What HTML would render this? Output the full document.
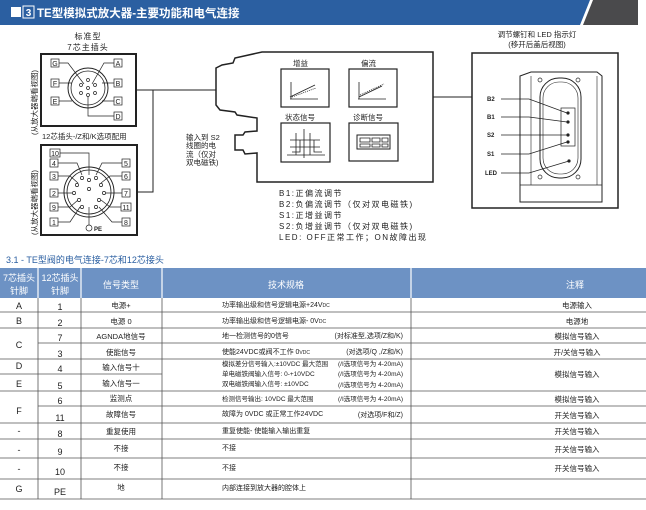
<!DOCTYPE html>
<html><head><meta charset="utf-8"><style>
body{margin:0;background:#fff}
svg{display:block}
text{font-family:"Liberation Sans","Noto Sans CJK SC",sans-serif;fill:#222}
</style></head><body>
<svg width="646" height="510" viewBox="0 0 646 510" xmlns="http://www.w3.org/2000/svg">
<polygon points="0,0 590,0 580,25 0,25" fill="#2b5fa1"/>
<polygon points="593,0 638,0 638,25 583,25" fill="#4a4a4c"/>
<rect x="11" y="7" width="10" height="10" fill="#fff"/>
<rect x="23" y="6" width="11" height="12" fill="none" stroke="#fff" stroke-width="1"/>
<text x="28.5" y="16" font-size="10" font-weight="bold" text-anchor="middle" style="fill:#fff">3</text>
<text x="37" y="17" font-size="11.5" font-weight="bold" style="fill:#fff">TE型模拟式放大器-主要功能和电气连接</text>

<g stroke="#222" fill="none">
<rect x="41" y="54" width="95" height="72" stroke-width="2"/>
<circle cx="88" cy="88" r="20" stroke-width="1"/>
<circle cx="88" cy="88" r="17" stroke-width="0.8"/>
<rect x="41" y="145" width="96" height="90" stroke-width="2"/>
<circle cx="89" cy="192" r="25" stroke-width="1"/>
<circle cx="89" cy="192" r="22" stroke-width="0.8"/>
<polyline points="136,90 216,90" stroke-width="1"/>
<polyline points="137,192 153,192 153,90" stroke-width="1"/>
<polygon points="216,68 222,65 233,63 235,58 262,52 433,52 433,182 257,182 257,153 245,154 243,150 235,150 235,135 243,135 245,132 257,131 257,118 237,115 235,112 220,110 216,105" stroke-width="1.5"/>
<line x1="433" y1="97" x2="472" y2="97" stroke-width="1"/>
<rect x="281" y="69" width="48" height="38" stroke-width="1.2"/>
<rect x="349" y="69" width="48" height="38" stroke-width="1.2"/>
<rect x="281" y="123" width="49" height="39" stroke-width="1.2"/>
<rect x="349" y="123" width="49" height="38" stroke-width="1.2"/>
<path d="M290 99 H318 M291 99 V82 M290 97 L315 85" stroke-width="0.8"/>
<path d="M292 97 L316 88" stroke-width="0.8" stroke-dasharray="1,1"/>
<path d="M358 99 H386 M359 99 V82 M359 97 L382 86" stroke-width="0.8"/>
<path d="M360 95 L384 84" stroke-width="0.8" stroke-dasharray="1,1"/>
<path d="M287 155 H325 M304 158 V129 M290 140 H320 M290 147 H320 M296 133 V155 M310 133 V155 M292 152 H300 V140 H314 V152 H322" stroke-width="0.8"/>
<rect x="357" y="135" width="33" height="14" stroke-width="1"/>
<path d="M360 138 H370 V142 H360 Z M372 138 H380 V142 H372 Z M382 138 H388 V142 H382 Z M360 144 H370 V147 H360 Z M372 144 H380 V147 H372 Z M382 144 H388 V147 H382 Z" stroke-width="0.8"/>
<rect x="472" y="53" width="146" height="155" stroke-width="1.5"/>
<path d="M520 202 V76 L531 72 H597 L602 76 V202 Z" stroke-width="1"/>
<line x1="520" y1="185" x2="602" y2="185" stroke-width="0.8"/>
<line x1="531" y1="76" x2="531" y2="185" stroke-width="0.6"/>
<line x1="597" y1="76" x2="597" y2="185" stroke-width="0.6"/>
<rect x="540" y="78" width="41" height="100" rx="19" stroke-width="1"/>
<rect x="543" y="82" width="35" height="92" rx="16" stroke-width="0.6"/>
<rect x="561" y="108" width="14" height="38" stroke-width="0.7"/>
<circle cx="540" cy="80" r="2" stroke-width="0.7"/><circle cx="578" cy="80" r="2" stroke-width="0.7"/>
<circle cx="540" cy="177" r="2" stroke-width="0.7"/><circle cx="578" cy="177" r="2" stroke-width="0.7"/>
<path d="M501 99 H529 L567 113 M501 117 H529 L567 122 M501 135 H567 M501 154 H529 L567 142 M501 173 H529 L569 161" stroke-width="0.7"/>
</g>
<g fill="#222">
<circle cx="568" cy="113" r="1.6"/><circle cx="568" cy="122" r="1.6"/><circle cx="568" cy="135" r="1.6"/><circle cx="568" cy="142" r="1.6"/><circle cx="569" cy="161" r="1.6"/>
</g>

<g font-size="7" stroke="#222" stroke-width="0.7">
<rect x="51" y="59" width="8" height="8" fill="#fff"/><rect x="51" y="79" width="8" height="8" fill="#fff"/><rect x="51" y="97" width="8" height="8" fill="#fff"/>
<rect x="114" y="59" width="8" height="8" fill="#fff"/><rect x="114" y="79" width="8" height="8" fill="#fff"/><rect x="114" y="97" width="8" height="8" fill="#fff"/><rect x="114" y="112" width="8" height="8" fill="#fff"/>
<path d="M59 63 H68 L84 84 M59 83 H72 M59 101 H72 M114 63 H104 L92 84 M114 83 H102 M114 101 H102 M114 116 H88 V95" fill="none"/>
</g>
<g font-size="7" text-anchor="middle">
<text x="55" y="66">G</text><text x="55" y="86">F</text><text x="55" y="104">E</text>
<text x="118" y="66">A</text><text x="118" y="86">B</text><text x="118" y="104">C</text><text x="118" y="119">D</text>
</g>
<g fill="#fff" stroke="#222" stroke-width="0.7">
<circle cx="88" cy="80" r="1.5"/><circle cx="81" cy="85" r="1.5"/><circle cx="95" cy="85" r="1.5"/><circle cx="81" cy="93" r="1.5"/><circle cx="95" cy="93" r="1.5"/><circle cx="88" cy="95" r="1.5"/><circle cx="88" cy="88" r="1.5"/>
</g>
<g stroke="#222" stroke-width="0.7" fill="#fff">
<rect x="50" y="149" width="10" height="8"/><rect x="50" y="159" width="8" height="8"/><rect x="50" y="172" width="8" height="8"/><rect x="50" y="189" width="8" height="8"/><rect x="50" y="203" width="8" height="8"/><rect x="50" y="218" width="8" height="8"/>
<rect x="122" y="159" width="8" height="8"/><rect x="122" y="172" width="8" height="8"/><rect x="122" y="189" width="8" height="8"/><rect x="121" y="203" width="10" height="8"/><rect x="122" y="218" width="8" height="8"/>
<path d="M60 153 H89 V175 M58 163 H77 L82 175 M58 176 H70 L78 183 M58 193 H74 M58 207 H70 L78 200 M58 222 H70 L80 207 M122 163 H102 L96 175 M122 176 H110 L101 183 M122 193 H104 M121 207 H110 L101 200 M122 222 H112 L99 207" fill="none"/>
<circle cx="89" cy="180" r="1.6"/><circle cx="82" cy="178" r="1.6"/><circle cx="96" cy="178" r="1.6"/><circle cx="77" cy="185" r="1.6"/><circle cx="101" cy="185" r="1.6"/><circle cx="89" cy="189" r="1.6"/><circle cx="74" cy="193" r="1.6"/><circle cx="104" cy="193" r="1.6"/><circle cx="79" cy="200" r="1.6"/><circle cx="99" cy="200" r="1.6"/><circle cx="82" cy="207" r="1.6"/><circle cx="96" cy="207" r="1.6"/>
<path d="M89 207 V226" fill="none"/><circle cx="89" cy="228" r="3"/>
</g>
<g font-size="7" text-anchor="middle">
<text x="55" y="156">10</text><text x="54" y="166">4</text><text x="54" y="179">3</text><text x="54" y="196">2</text><text x="54" y="210">9</text><text x="54" y="225">1</text>
<text x="126" y="166">5</text><text x="126" y="179">6</text><text x="126" y="196">7</text><text x="126" y="210">11</text><text x="126" y="225">8</text>
<text x="98" y="231" font-size="6" font-weight="bold">PE</text>
</g>

<g font-size="8">
<text x="88" y="39" text-anchor="middle" letter-spacing="1">标准型</text>
<text x="88" y="50" text-anchor="middle" letter-spacing="1">7芯主插头</text>
<text x="42" y="139" font-size="7.5">12芯插头-/Z和/K选项配用</text>
<text transform="translate(37,135) rotate(-90)" font-size="7.5">(从放大器端看视图)</text>
<text transform="translate(37,235) rotate(-90)" font-size="7.5">(从放大器端看视图)</text>
<text x="186" y="140" font-size="7.5">输入到 S2</text>
<text x="186" y="148" font-size="7.5">线圈的电</text>
<text x="186" y="157" font-size="7.5">流（仅对</text>
<text x="186" y="165" font-size="7.5">双电磁铁)</text>
<text x="293" y="66" font-size="7.5">增益</text>
<text x="361" y="66" font-size="7.5">偏流</text>
<text x="285" y="120" font-size="7.5">状态信号</text>
<text x="353" y="120" font-size="7.5">诊断信号</text>
<g letter-spacing="1.5">
<text x="279" y="196">B1:正偏流调节</text>
<text x="279" y="207">B2:负偏流调节（仅对双电磁铁)</text>
<text x="279" y="218">S1:正增益调节</text>
<text x="279" y="229">S2:负增益调节（仅对双电磁铁)</text>
<text x="279" y="240">LED: OFF正常工作；ON故障出现</text>
</g>
<text x="537" y="37" font-size="7.5" text-anchor="middle">调节螺钉和 LED 指示灯</text>
<text x="537" y="47" font-size="7.5" text-anchor="middle">(移开后盖后视图)</text>
<g font-size="6" font-weight="bold">
<text x="487" y="101">B2</text><text x="487" y="119">B1</text><text x="487" y="137">S2</text><text x="487" y="156">S1</text><text x="485" y="175">LED</text>
</g>
</g>

<text x="6" y="263" font-size="9" style="fill:#2b5fa1">3.1 - TE型阀的电气连接-7芯和12芯接头</text>
<rect x="0" y="268" width="646" height="30" fill="#6d92c4"/>
<g stroke="#fff" stroke-width="1.2">
<line x1="38" y1="268" x2="38" y2="298"/><line x1="81" y1="268" x2="81" y2="298"/><line x1="162" y1="268" x2="162" y2="298"/><line x1="411" y1="268" x2="411" y2="298"/>
</g>
<g font-size="9" text-anchor="middle">
<text x="19" y="281" style="fill:#fff">7芯插头</text><text x="19" y="294" style="fill:#fff">针脚</text>
<text x="60" y="281" style="fill:#fff">12芯插头</text><text x="60" y="294" style="fill:#fff">针脚</text>
<text x="121" y="288" style="fill:#fff">信号类型</text>
<text x="286" y="288" style="fill:#fff">技术规格</text>
<text x="575" y="288" style="fill:#fff">注释</text>
</g>
<g stroke="#555" stroke-width="0.8">
<line x1="38" y1="298" x2="38" y2="499"/><line x1="81" y1="298" x2="81" y2="499"/><line x1="162" y1="298" x2="162" y2="499"/><line x1="411" y1="298" x2="411" y2="499"/>
<line x1="0" y1="312" x2="646" y2="312"/><line x1="0" y1="328" x2="646" y2="328"/>
<line x1="38" y1="343" x2="646" y2="343"/><line x1="0" y1="359" x2="646" y2="359"/>
<line x1="0" y1="374" x2="162" y2="374"/><line x1="0" y1="391" x2="646" y2="391"/>
<line x1="38" y1="406" x2="646" y2="406"/><line x1="0" y1="423" x2="646" y2="423"/>
<line x1="0" y1="439" x2="646" y2="439"/><line x1="0" y1="458" x2="646" y2="458"/>
<line x1="0" y1="479" x2="646" y2="479"/><line x1="0" y1="499" x2="646" y2="499"/>
</g>
<g font-size="9" text-anchor="middle">
<text x="19" y="309">A</text><text x="19" y="324">B</text><text x="19" y="348">C</text><text x="19" y="369">D</text><text x="19" y="387">E</text><text x="19" y="414">F</text><text x="19" y="434">-</text><text x="19" y="453">-</text><text x="19" y="472">-</text><text x="19" y="492">G</text>
<text x="60" y="310">1</text><text x="60" y="326">2</text><text x="60" y="341">7</text><text x="60" y="357">3</text><text x="60" y="372">4</text><text x="60" y="389">5</text><text x="60" y="404">6</text><text x="60" y="421">11</text><text x="60" y="437">8</text><text x="60" y="455">9</text><text x="60" y="475">10</text><text x="60" y="495">PE</text>
</g>
<g font-size="7.5" text-anchor="middle">
<text x="121" y="308">电源+</text><text x="121" y="324">电源 0</text><text x="121" y="339">AGNDA地信号</text><text x="121" y="355">使能信号</text><text x="121" y="370">输入信号十</text><text x="121" y="386">输入信号一</text><text x="121" y="401">监测点</text><text x="121" y="417">故障信号</text><text x="121" y="434">重复使用</text><text x="121" y="451">不接</text><text x="121" y="470">不接</text><text x="121" y="490">地</text>
<text x="577" y="308">电源输入</text><text x="577" y="324">电源地</text><text x="577" y="339">模拟信号输入</text><text x="577" y="355">开/关信号输入</text><text x="577" y="377">模拟信号输入</text><text x="577" y="402">模拟信号输入</text><text x="577" y="418">开关信号输入</text><text x="577" y="434">开关信号输入</text><text x="577" y="452">开关信号输入</text><text x="577" y="471">开关信号输入</text>
</g>
<g font-size="7">
<text x="222" y="307">功率输出级和信号逻辑电源+24V<tspan font-size="5">DC</tspan></text>
<text x="222" y="323">功率输出级和信号逻辑电源- 0V<tspan font-size="5">DC</tspan></text>
<text x="222" y="338">地一检测信号的0信号</text><text x="403" y="338" text-anchor="end">(对标准型,选项/Z和/K)</text>
<text x="222" y="354">使能24VDC或阀不工作 0<tspan font-size="5">VDC</tspan></text><text x="403" y="354" text-anchor="end">(对选项/Q ,/Z和/K)</text>
<text x="222" y="366" font-size="6.5">模拟差分信号输入:±10VDC 最大范围</text><text x="403" y="366" text-anchor="end" font-size="6.5">(/I选项信号为 4-20mA)</text>
<text x="222" y="376" font-size="6.5">单电磁铁阀输入信号: 0-+10VDC</text><text x="403" y="376" text-anchor="end" font-size="6.5">(/I选项信号为 4-20mA)</text>
<text x="222" y="386" font-size="6.5">双电磁铁阀输入信号: ±10VDC</text><text x="403" y="387" text-anchor="end" font-size="6.5">(/I选项信号为 4-20mA)</text>
<text x="222" y="401" font-size="6.5">检测信号输出: 10VDC 最大范围</text><text x="403" y="401" text-anchor="end" font-size="6.5">(/I选项信号为 4-20mA)</text>
<text x="222" y="416">故障为 0VDC 或正常工作24VDC</text><text x="403" y="417" text-anchor="end">(对选项/F和/Z)</text>
<text x="222" y="433">重复使能- 使能输入输出重复</text>
<text x="222" y="450">不接</text><text x="222" y="470">不接</text>
<text x="222" y="490">内部连接到放大器的腔体上</text>
</g>
</svg>
</body></html>
